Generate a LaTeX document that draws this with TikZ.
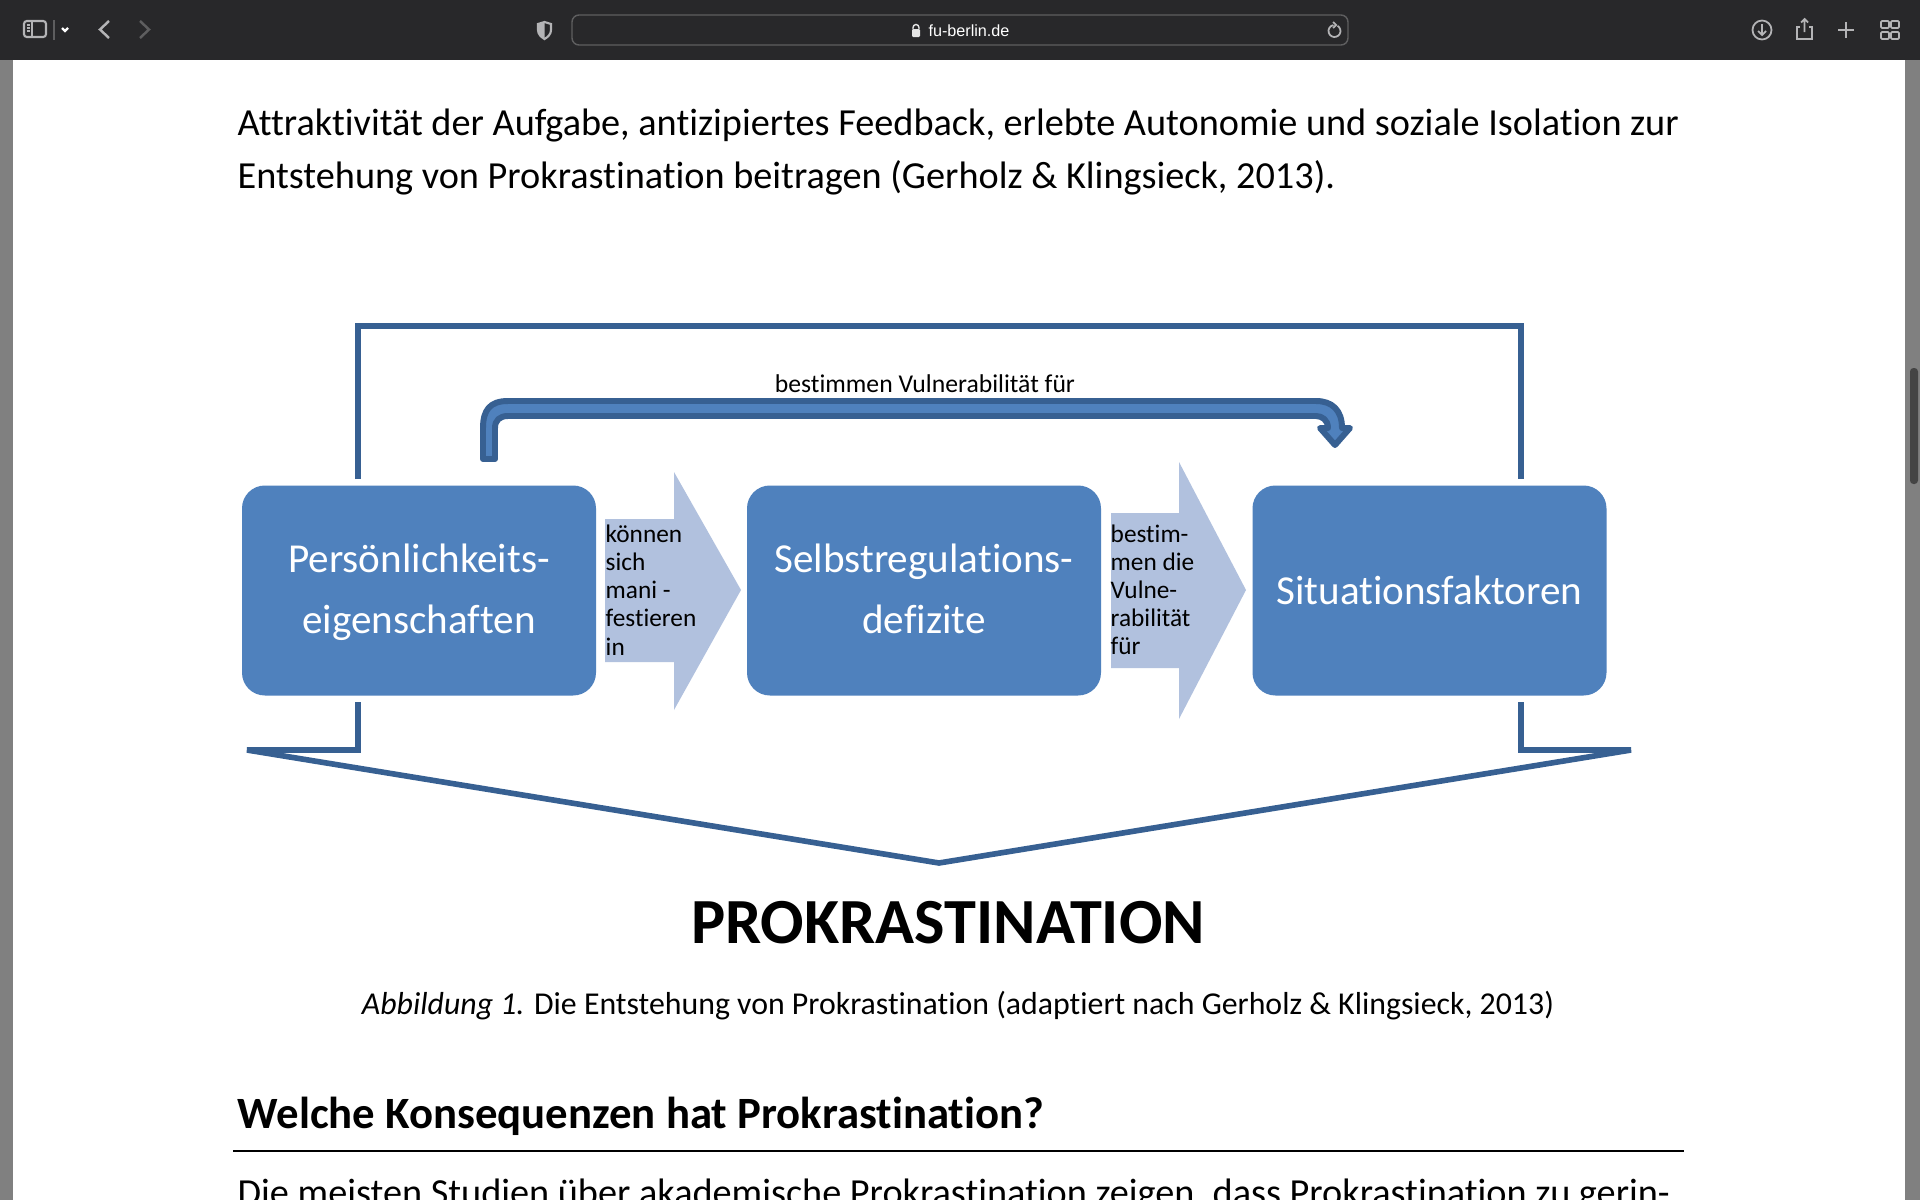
\documentclass[tikz,border=0pt]{standalone}
\usepackage{fontspec}
\setmainfont[RawFeature={-liga;-dlig;-clig}]{Carlito}
\newfontfamily\uifont{Liberation Sans}
\usepackage{xcolor}
\usetikzlibrary{arrows.meta, calc, positioning}
\definecolor{BoxBlue}{HTML}{4F81BD}
\definecolor{ArrowBlue}{HTML}{B1C1DE}
\definecolor{FrameBlue}{HTML}{376092}
\definecolor{BarGrey}{HTML}{28282A}
\definecolor{SideGrey}{HTML}{808080}
\definecolor{IconGrey}{HTML}{B4B4B6}
\definecolor{ThumbGrey}{HTML}{444444}
\newcommand{\boxlines}[2]{\rule{0pt}{7.1pt}\smash{#1}\\\smash{#2}}
\tikzset{
  stepbox/.style={fill=BoxBlue, rounded corners=6.5pt, minimum width=354*0.01cm, minimum height=210*0.01cm, inner sep=0pt, text=white, font=\fontsize{11.7}{17.6}\selectfont, align=center},
  flowarrow/.style={fill=ArrowBlue},
  frameline/.style={draw=FrameBlue, line width=1.6pt},
  bentarrow/.style={draw=FrameBlue, fill=BoxBlue, line width=1.7pt, line join=round},
  bodytext/.style={anchor=base west, inner sep=0pt, font=\fontsize{10.88}{15}\selectfont},
  smalltext/.style={anchor=west, inner sep=0pt, align=left, font=\fontsize{7.2}{8}\selectfont},
  icon/.style={draw=IconGrey, line width=0.5pt},
  dimicon/.style={draw=white!25!BarGrey, line width=0.5pt},
}
\begin{document}
\begin{tikzpicture}[x=0.01cm, y=-0.01cm]
  \useasboundingbox (0,0) rectangle (1920,1200);
  \clip (0,0) rectangle (1920,1200);

  % Page and browser window
  \fill[white] (0,0) rectangle (1920,1200);
  \fill[SideGrey] (0,60) rectangle (13,1200);
  \fill[SideGrey] (1905,60) rectangle (1920,1200);
  \fill[BarGrey] (0,0) rectangle (1920,60);
  \fill[ThumbGrey, rounded corners=1pt] (1910,368) rectangle (1918,484);

  % Address bar
  \draw[dimicon, line width=0.4pt, rounded corners=2pt] (572,15) rectangle (1348,45);
  \node[inner sep=0pt, text=white, font=\uifont\fontsize{4.6}{5}\selectfont] (url) at (969,31) {fu-berlin.de};
  \fill[white!90!black, rounded corners=0.3pt] (912,29) rectangle (920,37);
  \draw[white!90!black, line width=0.4pt] (913,29) -- (913,27.5) arc (180:360:3) -- (919,29);
  \draw[icon] (1334.5,31) ++(-60:6) arc (-60:260:6);
  \draw[icon] (1333,22) -- (1336,25) -- (1333,28);

  % Toolbar icons, left
  \draw[icon, line width=0.6pt, rounded corners=0.8pt] (24,21) rectangle (46,37);
  \draw[icon] (32,21) -- (32,37);
  \draw[icon] (26.5,25) -- (29.5,25) (26.5,28) -- (29.5,28) (26.5,31) -- (29.5,31);
  \draw[dimicon] (54,20) -- (54,40);
  \draw[icon, draw=white, line width=0.7pt] (62,28) -- (65,31) -- (68,28);
  \draw[icon, line width=0.7pt] (109,21) -- (100,29.5) -- (109,38);
  \draw[dimicon, line width=0.7pt] (140,21) -- (149,29.5) -- (140,38);
  \draw[icon, line width=0.6pt] (544.5,22) -- (538,24) -- (538,30) .. controls (538,34) and (541,37) .. (544.5,39) .. controls (548,37) and (551,34) .. (551,30) -- (551,24) -- cycle;
  \fill[IconGrey] (544.5,22) -- (538,24) -- (538,30) .. controls (538,34) and (541,37) .. (544.5,39) -- cycle;

  % Toolbar icons, right
  \draw[icon] (1762,30) circle (9.5);
  \draw[icon] (1762,24) -- (1762,35) (1758,31) -- (1762,35) -- (1766,31);
  \draw[icon] (1800,27) -- (1797,27) -- (1797,39) -- (1812,39) -- (1812,27) -- (1809,27);
  \draw[icon] (1804.5,19) -- (1804.5,32) (1801,22.5) -- (1804.5,19) -- (1808,22.5);
  \draw[icon] (1846,22) -- (1846,38) (1838,30) -- (1854,30);
  \foreach \ix in {1881,1891} \foreach \iy in {21,32} \draw[icon, rounded corners=0.3pt] (\ix,\iy) rectangle ++(8,7);

  % Text above the figure
  \node[bodytext] (intro1) at (237,135) {Attraktivität der Aufgabe, antizipiertes Feedback, erlebte Autonomie und soziale Isolation zur};
  \node[bodytext] (intro2) at (237,189) {Entstehung von Prokrastination beitragen (Gerholz \& Klingsieck, 2013).};

  % Outer frame
  \draw[frameline] (358,479) -- (358,326) -- (1521,326) -- (1521,479);
  \draw[frameline, line join=miter] (358,702) -- (358,750) -- (247,750) -- (939,863) -- (1631,750) -- (1521,750) -- (1521,702);

  % Bent arrow
  \draw[bentarrow] (483,459) -- (483,428) .. controls (483,410) and (490,401) .. (508,401) -- (1316,401) .. controls (1332,401) and (1342,410) .. (1342,428) -- (1350,428) -- (1335,445) -- (1320,428) -- (1328,428) .. controls (1328,420) and (1322,416) .. (1316,416) -- (508,416) .. controls (500,416) and (495,420) .. (495,428) -- (495,459) -- cycle;
  \node[inner sep=0pt, anchor=base, font=\fontsize{7.3}{8}\selectfont] (bentlabel) at (925,392) {bestimmen Vulnerabilität für};

  % Boxes
  \node[stepbox] (traits) at (419,590.5) {\boxlines{Persönlichkeits-}{eigenschaften}};
  \node[stepbox] (deficits) at (924,590.5) {\boxlines{Selbstregulations-}{defizite}};
  \node[stepbox] (factors) at (1429.5,590.5) {Situationsfaktoren};

  % Block arrows
  \fill[flowarrow] (605,519) -- (674,519) -- (674,472) -- (741,590) -- (674,710) -- (674,662) -- (605,662) -- cycle;
  \fill[flowarrow] (1111,513) -- (1179,513) -- (1179,462) -- (1246,590) -- (1179,719) -- (1179,668) -- (1111,668) -- cycle;
  \node[smalltext] (manifest) at (605,590) {können\\sich\\mani -\\festieren\\in};
  \node[smalltext] (vulner) at (1110,590) {bestim-\\men die\\Vulne-\\rabilität\\für};

  % Title and caption
  \node[inner sep=0pt, anchor=base, font=\fontsize{18.3}{22}\selectfont\bfseries] (title) at (948,943) {PROKRASTINATION};
  \node[inner sep=0pt, anchor=base, font=\fontsize{9.05}{10}\selectfont] (caption) at (958,1014) {\textit{Abbildung 1.} Die Entstehung von Prokrastination (adaptiert nach Gerholz \& Klingsieck, 2013)};

  % Next section
  \node[bodytext, font=\fontsize{12.73}{15}\selectfont\bfseries] (heading) at (237,1128) {Welche Konsequenzen hat Prokrastination?};
  \draw[black, line width=0.4pt] (233,1151) -- (1684,1151);
  \node[bodytext] (lastline) at (237,1205) {Die meisten Studien über akademische Prokrastination zeigen, dass Prokrastination zu gerin-};
\end{tikzpicture}
\end{document}
